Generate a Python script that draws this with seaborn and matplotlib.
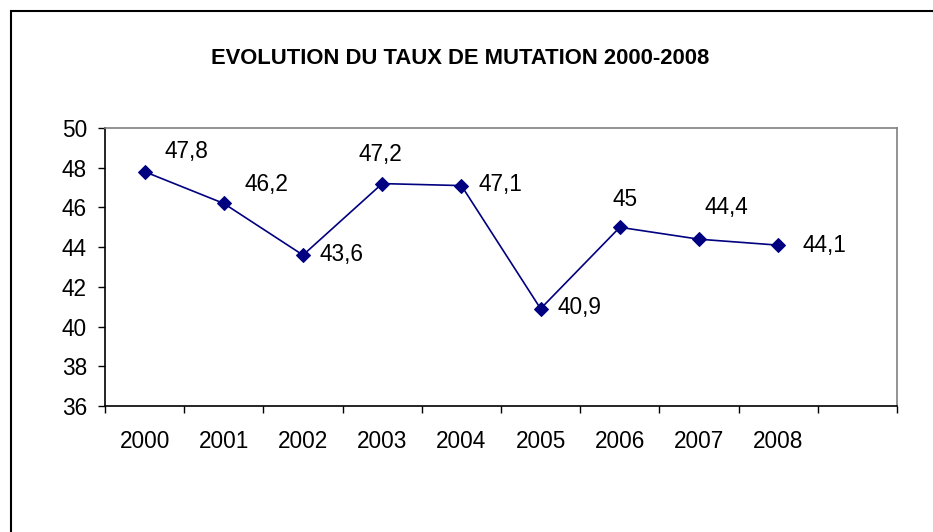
import matplotlib
matplotlib.use("Agg")
import matplotlib.pyplot as plt
from matplotlib.patches import Rectangle
import seaborn as sns
import numpy as np
import pandas as pd

# -------------------------
# Data
# -------------------------
years = ["2000", "2001", "2002", "2003", "2004", "2005", "2006", "2007", "2008"]
taux = [47.8, 46.2, 43.6, 47.2, 47.1, 40.9, 45.0, 44.4, 44.1]
labels = ["47,8", "46,2", "43,6", "47,2", "47,1", "40,9", "45", "44,4", "44,1"]

# label offsets from each point (pixels, text centre)
label_dx = [42, 43, 39, -2, 39, 39, 5, 27, 46]
label_dy = [20, 19, 1, 29, 1, 1, 28, 32, 0]

df = pd.DataFrame({"pos": np.arange(len(years)), "taux": taux})

# -------------------------
# Style
# -------------------------
sns.set_style("white")
plt.rcParams['font.family'] = ['Liberation Sans', 'DejaVu Sans']
plt.rcParams['text.color'] = 'black'
plt.rcParams['xtick.color'] = 'black'
plt.rcParams['ytick.color'] = 'black'
plt.rcParams['axes.labelcolor'] = 'black'
FS = 16.3

fig = plt.figure(figsize=(9.33, 5.32), dpi=100)
ax = fig.add_axes([105/933, 1 - 406/532, (897-105)/933, (406-128)/532])

sns.lineplot(data=df, x="pos", y="taux", ax=ax, color="#000080",
             marker="D", markersize=7.5, markeredgecolor="#000080",
             linewidth=1.2)

for i in range(len(years)):
    ax.annotate(labels[i], (i, taux[i]), xytext=(label_dx[i], label_dy[i]),
                textcoords="offset pixels", ha="center", va="center",
                fontsize=FS, color="black")

# axes
ax.set_xlim(-0.5, 9.5)
ax.set_ylim(36, 50)
ax.set_yticks(np.arange(36, 51, 2))
ax.set_xticks(np.arange(-0.5, 10, 1))
ax.set_xticklabels([])
ax.set_xticks(np.arange(len(years)), minor=True)
ax.set_xticklabels(years, minor=True)
ax.tick_params(axis="x", which="major", direction="out", length=5, width=1, color="black", bottom=True)
ax.tick_params(axis="x", which="minor", length=0, pad=17, labelsize=FS, labelcolor="black")
ax.tick_params(axis="y", direction="out", length=5, width=1, color="black", left=True, pad=8,
               labelsize=FS, labelcolor="black")
ax.set_xlabel("")
ax.set_ylabel("")

for s in ["left", "bottom"]:
    ax.spines[s].set_color("black")
    ax.spines[s].set_linewidth(1.2)
for s in ["top", "right"]:
    ax.spines[s].set_color("#808080")
    ax.spines[s].set_linewidth(1.2)

fig.text(460/933, 1 - 58/532, "EVOLUTION DU TAUX DE MUTATION 2000-2008",
         ha="center", va="center", fontsize=15.8, fontweight="bold", color="black")

# outer chart border (cut off on the right and bottom)
fig.add_artist(Rectangle((11/933, -0.1), 1.2, 1.1 - 11/532,
                         transform=fig.transFigure, fill=False,
                         edgecolor="black", linewidth=1.5))

plt.savefig("out.png", dpi=100)
